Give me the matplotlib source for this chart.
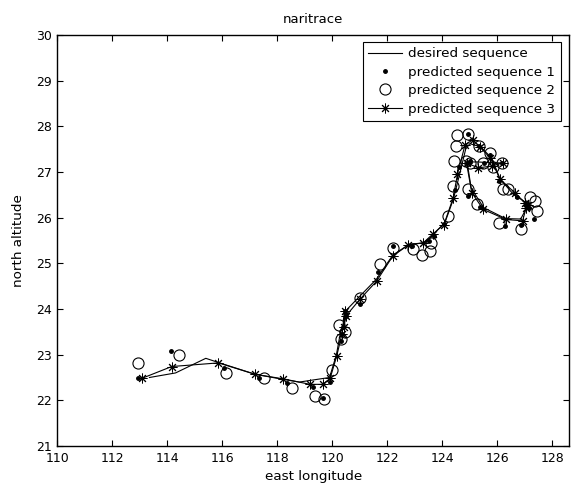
import numpy as np
import matplotlib
matplotlib.use("Agg")
import matplotlib.pyplot as plt

# desired sequence (plain line)
desired_lon = [113.35, 114.3, 115.4, 115.9, 117.2, 118.2, 118.8, 119.9, 120.15, 120.3,
               120.45, 120.55, 121.0, 121.6, 122.2, 122.8, 123.4, 123.7, 124.1, 124.4,
               124.65, 124.85, 125.0, 125.4, 125.8, 126.1, 126.6, 127.0, 127.1, 126.85,
               126.3, 125.5, 125.05, 124.9, 125.3, 125.8, 126.2]
desired_lat = [22.50, 22.60, 22.92, 22.82, 22.57, 22.46, 22.40, 22.50, 23.00, 23.50,
               23.75, 24.00, 24.28, 24.65, 25.18, 25.42, 25.45, 25.65, 25.90, 26.40,
               27.00, 27.50, 27.62, 27.55, 27.30, 26.85, 26.50, 26.35, 26.25, 25.97,
               25.98, 26.22, 26.65, 27.22, 27.22, 27.20, 27.20]

# predicted sequence 1 (dots)
pred1_lon = [112.95, 114.12, 116.06, 117.35, 118.34, 119.31, 119.67, 119.92, 120.3, 120.4,
             120.5, 120.35, 120.45, 121.0, 121.67, 122.22, 122.9, 123.53, 123.7, 124.06,
             124.45, 124.6, 124.95, 125.35, 125.74, 126.07, 126.7, 127.05, 127.15, 127.32,
             126.86, 126.28, 125.37, 124.95, 124.9, 125.0, 125.5, 126.16]
pred1_lat = [22.50, 23.08, 22.70, 22.50, 22.37, 22.30, 22.06, 22.40, 23.30, 23.60,
             23.85, 23.45, 23.95, 24.10, 24.82, 25.38, 25.38, 25.48, 25.60, 25.87,
             26.60, 27.10, 27.84, 27.56, 27.38, 26.80, 26.45, 26.30, 26.22, 25.96,
             25.85, 25.82, 26.23, 26.48, 27.20, 27.25, 27.20, 27.20]

# predicted sequence 2 (circles)
pred2_lon = [112.95, 114.44, 116.13, 117.53, 118.55, 119.37, 119.70, 120.0, 120.25, 120.3,
             120.45, 121.01, 121.73, 122.22, 122.95, 123.25, 123.55, 123.6, 124.22, 124.40,
             124.44, 124.52, 124.95, 124.5, 125.35, 125.74, 125.49, 125.85, 126.16, 124.95,
             125.25, 126.05, 126.86, 127.38, 127.44, 127.2, 126.39, 126.2, 124.85, 125.0]
pred2_lat = [22.81, 22.99, 22.59, 22.48, 22.26, 22.10, 22.04, 22.66, 23.65, 23.35,
             23.50, 24.25, 24.98, 25.34, 25.31, 25.18, 25.27, 25.45, 26.04, 26.70,
             27.24, 27.80, 27.84, 27.56, 27.58, 27.42, 27.20, 27.10, 27.20, 26.62,
             26.29, 25.89, 25.75, 26.36, 26.14, 26.45, 26.62, 26.62, 27.25, 27.20]

# predicted sequence 3 (line + stars)
pred3_lon = [113.07, 114.16, 115.86, 117.19, 118.22, 119.19, 119.65, 119.92, 120.16, 120.35,
             120.45, 120.42, 120.5, 121.0, 121.61, 122.2, 122.76, 123.31, 123.67, 124.06,
             124.4, 124.55, 124.83, 125.1, 125.37, 125.75, 126.1, 126.63, 127.0, 127.1,
             127.05, 126.92, 126.32, 125.49, 125.07, 124.88, 125.31, 125.79, 126.2]
pred3_lat = [22.48, 22.74, 22.82, 22.57, 22.47, 22.35, 22.35, 22.48, 22.97, 23.45,
             23.96, 23.60, 23.85, 24.21, 24.61, 25.16, 25.40, 25.45, 25.65, 25.85,
             26.44, 26.95, 27.60, 27.70, 27.55, 27.30, 26.84, 26.55, 26.33, 26.28,
             26.22, 25.93, 25.96, 26.18, 26.55, 27.20, 27.09, 27.13, 27.20]

plt.rcParams["font.family"] = ["DejaVu Sans"]

W, H = 572, 491
fig = plt.figure(figsize=(W / 100, H / 100), dpi=100)
# axes box in pixels: left 57, right 569, top 35, bottom 446
ax = fig.add_axes([57.3 / W, 1 - 446 / H, (569 - 57.3) / W, (446 - 35) / H])

ax.plot(desired_lon, desired_lat, "-", color="k", lw=0.8, label="desired sequence")
ax.plot(pred1_lon, pred1_lat, ".", color="k", ms=5, label="predicted sequence 1")
ax.plot(pred2_lon, pred2_lat, "o", mfc="none", mec="k", mew=0.8, ms=8,
        ls="none", label="predicted sequence 2")
ax.plot(pred3_lon, pred3_lat, "-", color="k", lw=0.8, marker=(8, 2, 0), ms=7,
        mew=0.7, label="predicted sequence 3")

# ticks every 2 deg, 27.5 px per degree -> right edge a bit past 128
ax.set_xlim(110, 110 + (569 - 57.3) / 27.5)
ax.set_ylim(21, 30)
ax.set_xticks(np.arange(110, 129, 2))
ax.set_yticks(np.arange(21, 31, 1))
ax.tick_params(direction="in", top=True, right=True, length=4, width=0.8,
               labelsize=9, pad=4)
for sp in ax.spines.values():
    sp.set_linewidth(1.0)

ax.set_title("naritrace", fontsize=9.5, pad=8.5)
ax.set_xlabel("east longitude", fontsize=9.7, labelpad=4)
ax.set_ylabel("north altitude", fontsize=9.7, labelpad=8)

leg = ax.legend(loc="upper left", bbox_to_anchor=(363 / W, 1 - 42 / H),
                bbox_transform=fig.transFigure, borderaxespad=0,
                fancybox=False, framealpha=1, edgecolor="k",
                fontsize=9.7, handlelength=2.5, labelspacing=0.4,
                borderpad=0.4, handletextpad=0.45)
leg.get_frame().set_linewidth(0.8)

fig.savefig("out.png", dpi=100)
